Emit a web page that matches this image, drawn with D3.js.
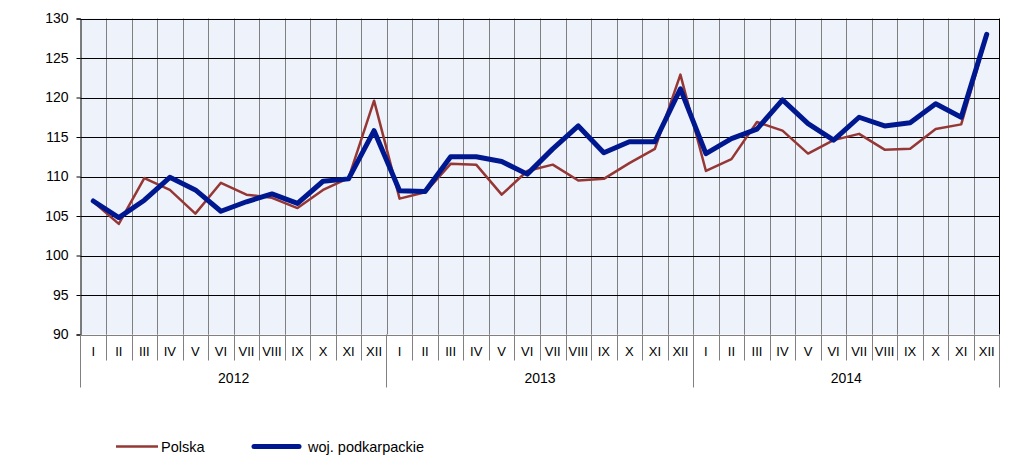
<!DOCTYPE html>
<html>
<head>
<meta charset="utf-8">
<script src="https://cdn.jsdelivr.net/npm/d3@7"></script>
<style>
  body { margin: 0; background: #fff; }
  text { font-family: "Liberation Sans", Arial, sans-serif; fill: #000; }
</style>
</head>
<body>
<svg id="chart" width="1010" height="472"></svg>
<script>
const years = ["2012", "2013", "2014"];
const months = ["I","II","III","IV","V","VI","VII","VIII","IX","X","XI","XII"];
const yTicks = [90, 95, 100, 105, 110, 115, 120, 125, 130];
const seriesNames = ["Polska", "woj. podkarpackie"];

const polska = [
  106.8, 104.0, 109.8, 108.3, 105.3, 109.2, 107.7, 107.3, 106.0, 108.3, 109.8, 119.6,
  107.2, 108.0, 111.6, 111.5, 107.7, 110.7, 111.5, 109.5, 109.7, 111.7, 113.5, 122.9,
  110.7, 112.2, 116.9, 115.8, 112.9, 114.6, 115.4, 113.4, 113.5, 116.0, 116.6, 127.8
];
const podkarpackie = [
  106.9, 104.8, 107.0, 109.9, 108.3, 105.6, 106.8, 107.8, 106.6, 109.4, 109.7, 115.8,
  108.2, 108.1, 112.5, 112.5, 111.9, 110.3, 113.5, 116.4, 113.0, 114.4, 114.4, 121.1,
  112.9, 114.8, 116.0, 119.7, 116.7, 114.6, 117.5, 116.4, 116.8, 119.2, 117.5, 128.0
];

const categories = [];
years.forEach(y => months.forEach(m => categories.push(y + "-" + m)));

const svg = d3.select("#chart");
const L = 80.5, R = 999.5, T = 18.5, B = 334.5;

const x = d3.scaleBand().domain(categories).range([L, R]).padding(0);
const y = d3.scaleLinear().domain([90, 130]).range([B, T]);
const cx = c => x(c) + x.bandwidth() / 2;

// plot background
svg.append("rect").attr("x", L).attr("y", T).attr("width", R - L).attr("height", B - T)
  .attr("fill", "#EEF2FA");

// vertical gridlines (category boundaries)
svg.append("g").selectAll("line").data(categories.slice(1)).join("line")
  .attr("x1", d => Math.round(x(d)) + 0.5).attr("x2", d => Math.round(x(d)) + 0.5)
  .attr("y1", T).attr("y2", B)
  .attr("stroke", "#808080").attr("stroke-width", 1);

// horizontal gridlines
svg.append("g").selectAll("line").data(yTicks).join("line")
  .attr("x1", L).attr("x2", R)
  .attr("y1", d => Math.round(y(d)) + 0.5).attr("y2", d => Math.round(y(d)) + 0.5)
  .attr("stroke", d => d === 90 ? "#808080" : "#000").attr("stroke-width", 1);

// right border
svg.append("line").attr("x1", R).attr("x2", R).attr("y1", T).attr("y2", B)
  .attr("stroke", "#000");

// y axis
const yAxis = d3.axisLeft(y).tickValues(yTicks).tickSize(4).tickPadding(8);
const ga = svg.append("g").attr("transform", `translate(${L},0)`).call(yAxis);
ga.select(".domain").attr("stroke", "#000");
ga.selectAll(".tick line").attr("stroke", "#000");
ga.selectAll(".tick text").style("font-size", "14px").style("font-family", "'Liberation Sans', Arial, sans-serif").attr("fill", "#000");

// month ticks below axis
const bottomLines = categories.slice(1).filter((d, i) => (i + 1) % 12 !== 0);
svg.append("g").selectAll("line").data(bottomLines).join("line")
  .attr("x1", d => Math.round(x(d)) + 0.5).attr("x2", d => Math.round(x(d)) + 0.5)
  .attr("y1", B).attr("y2", 360.5)
  .attr("stroke", "#808080");

// year separators
const yearEdges = [L, ...years.slice(1).map(yr => x(yr + "-I")), R];
svg.append("g").selectAll("line").data(yearEdges).join("line")
  .attr("x1", d => Math.round(d - 0.5) + 0.5).attr("x2", d => Math.round(d - 0.5) + 0.5)
  .attr("y1", B).attr("y2", 387.5)
  .attr("stroke", "#808080");

// month labels
svg.append("g").selectAll("text").data(categories).join("text")
  .attr("x", d => cx(d)).attr("y", 356)
  .attr("text-anchor", "middle")
  .style("font-size", "13px")
  .text(d => d.split("-")[1]);

// year labels
svg.append("g").selectAll("text").data(years).join("text")
  .attr("x", yr => (x(yr + "-I") + x(yr + "-XII") + x.bandwidth()) / 2)
  .attr("y", 383)
  .attr("text-anchor", "middle")
  .style("font-size", "14px")
  .text(d => d);

// lines
const line = d3.line().x((d, i) => cx(categories[i])).y(d => y(d));
svg.append("path").datum(polska).attr("d", line)
  .attr("fill", "none").attr("stroke", "#953735").attr("stroke-width", 2.5)
  .attr("stroke-linejoin", "round");
svg.append("path").datum(podkarpackie).attr("d", line)
  .attr("fill", "none").attr("stroke", "#00188F").attr("stroke-width", 5)
  .attr("stroke-linejoin", "round").attr("stroke-linecap", "round");

// legend
const legend = svg.append("g");
legend.append("line").attr("x1", 116).attr("x2", 158).attr("y1", 446.5).attr("y2", 446.5)
  .attr("stroke", "#953735").attr("stroke-width", 2.5);
legend.append("text").attr("x", 161).attr("y", 451.5).style("font-size", "14.5px").text(seriesNames[0]);
legend.append("line").attr("x1", 254).attr("x2", 299).attr("y1", 446.5).attr("y2", 446.5)
  .attr("stroke", "#00188F").attr("stroke-width", 5).attr("stroke-linecap", "round");
legend.append("text").attr("x", 308).attr("y", 451.5).style("font-size", "14.5px").text(seriesNames[1]);
</script>
</body>
</html>
